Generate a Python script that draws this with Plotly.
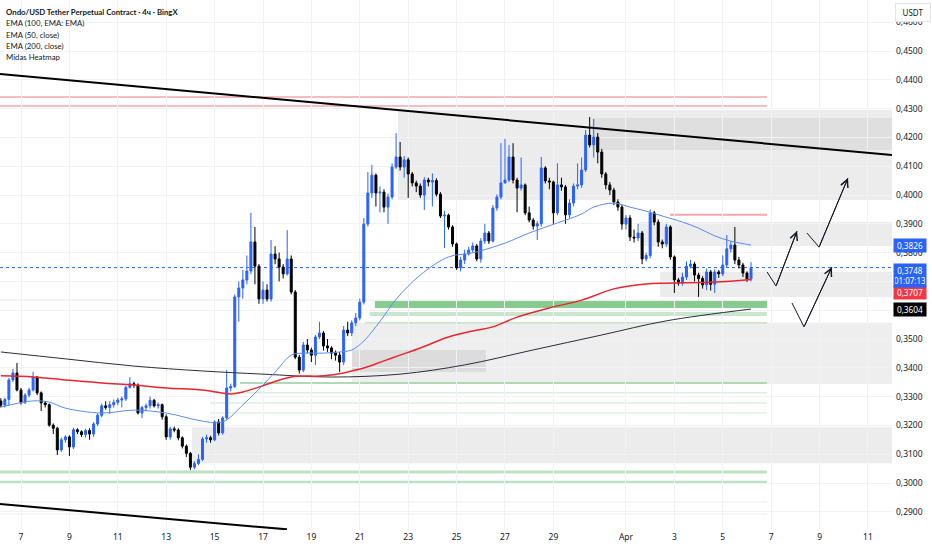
import pandas as pd
import plotly.graph_objects as go

# ---------------- data ----------------
start_time = "2025-03-06 04:00"
opens = [0.3285,0.3270,0.3290,0.3358,0.3382,0.3323,0.3280,0.3305,0.3323,0.3368,
         0.3313,0.3278,0.3272,0.3201,0.3190,0.3115,0.3150,0.3160,0.3125,0.3185,
         0.3178,0.3168,0.3182,0.3170,0.3205,0.3235,0.3268,0.3262,0.3272,0.3280,
         0.3288,0.3292,0.3332,0.3345,0.3340,0.3243,0.3262,0.3268,0.3287,0.3268,
         0.3272,0.3230,0.3160,0.3188,0.3184,0.3157,0.3128,0.3103,0.3055,0.3068,
         0.3082,0.3153,0.3157,0.3150,0.3212,0.3174,0.3226,0.3330,0.3335,0.3646,
         0.3677,0.3705,0.3736,0.3837,0.3753,0.3639,0.3670,0.3639,0.3795,0.3778,
         0.3750,0.3726,0.3778,0.3663,0.3437,0.3392,0.3479,0.3462,0.3444,0.3507,
         0.3521,0.3476,0.3469,0.3451,0.3444,0.3420,0.3531,0.3521,0.3556,0.3573,
         0.3628,0.3899,0.4007,0.4069,0.4007,0.4010,0.3958,0.3993,0.4097,0.4132,
         0.4097,0.4122,0.4073,0.4042,0.4031,0.4000,0.4052,0.4045,0.4050,0.4003,
         0.3927,0.3930,0.3889,0.3830,0.3747,0.3774,0.3795,0.3809,0.3823,0.3778,
         0.3840,0.3868,0.3840,0.3955,0.3993,0.4042,0.4052,0.4132,0.4052,0.4024,
         0.4035,0.3938,0.3913,0.3892,0.3900,0.4094,0.4049,0.4045,0.3938,0.4035,
         0.4028,0.3931,0.3972,0.4031,0.4035,0.4087,0.4208,0.4174,0.4201,0.4149,
         0.4073,0.4035,0.4017,0.3976,0.3958,0.3899,0.3920,0.3854,0.3851,0.3868,
         0.3778,0.3790,0.3938,0.3906,0.3837,0.3830,0.3889,0.3785,0.3705,0.3694,
         0.3715,0.3753,0.3760,0.3722,0.3710,0.3688,0.3733,0.3690,0.3733,0.3726,
         0.3757,0.3813,0.3826,0.3774,0.3757,0.3729,0.3708]
closes = [0.3270,0.3290,0.3358,0.3382,0.3323,0.3280,0.3305,0.3323,0.3368,0.3313,
          0.3278,0.3272,0.3201,0.3190,0.3115,0.3150,0.3160,0.3125,0.3185,0.3178,
          0.3168,0.3182,0.3170,0.3205,0.3235,0.3268,0.3262,0.3272,0.3280,0.3288,
          0.3292,0.3332,0.3345,0.3340,0.3243,0.3262,0.3268,0.3287,0.3268,0.3272,
          0.3230,0.3160,0.3188,0.3184,0.3157,0.3128,0.3103,0.3055,0.3068,0.3082,
          0.3153,0.3157,0.3150,0.3212,0.3174,0.3226,0.3330,0.3335,0.3646,0.3677,
          0.3705,0.3736,0.3837,0.3753,0.3639,0.3670,0.3639,0.3795,0.3778,0.3750,
          0.3726,0.3778,0.3663,0.3437,0.3392,0.3479,0.3462,0.3444,0.3507,0.3521,
          0.3476,0.3469,0.3451,0.3444,0.3420,0.3531,0.3521,0.3556,0.3573,0.3628,
          0.3899,0.4007,0.4069,0.4007,0.4010,0.3958,0.3993,0.4097,0.4132,0.4097,
          0.4122,0.4073,0.4042,0.4031,0.4000,0.4052,0.4045,0.4050,0.4003,0.3927,
          0.3930,0.3889,0.3830,0.3747,0.3774,0.3795,0.3809,0.3823,0.3778,0.3840,
          0.3868,0.3840,0.3955,0.3993,0.4042,0.4052,0.4132,0.4052,0.4024,0.4035,
          0.3938,0.3913,0.3892,0.3900,0.4094,0.4049,0.4045,0.3938,0.4035,0.4028,
          0.3931,0.3972,0.4031,0.4035,0.4087,0.4208,0.4174,0.4201,0.4149,0.4073,
          0.4035,0.4017,0.3976,0.3958,0.3899,0.3920,0.3854,0.3851,0.3868,0.3778,
          0.3790,0.3938,0.3906,0.3837,0.3830,0.3889,0.3785,0.3705,0.3694,0.3715,
          0.3753,0.3760,0.3722,0.3710,0.3688,0.3733,0.3690,0.3733,0.3726,0.3757,
          0.3813,0.3826,0.3774,0.3757,0.3729,0.3708,0.3748]
highs = [0.3295,0.3296,0.3365,0.3396,0.3417,0.3330,0.3312,0.3330,0.3386,0.3372,
         0.3318,0.3284,0.3276,0.3207,0.3195,0.3158,0.3166,0.3166,0.3192,0.3190,
         0.3183,0.3188,0.3190,0.3212,0.3242,0.3276,0.3284,0.3285,0.3290,0.3296,
         0.3300,0.3338,0.3368,0.3352,0.3346,0.3268,0.3276,0.3300,0.3292,0.3280,
         0.3276,0.3238,0.3195,0.3196,0.3190,0.3162,0.3134,0.3108,0.3076,0.3100,
         0.3160,0.3168,0.3164,0.3218,0.3222,0.3232,0.3392,0.3345,0.3655,0.3700,
         0.3740,0.3790,0.3938,0.3889,0.3760,0.3700,0.3690,0.3844,0.3822,0.3800,
         0.3760,0.3878,0.3790,0.3670,0.3445,0.3490,0.3500,0.3470,0.3514,0.3560,
         0.3528,0.3500,0.3475,0.3460,0.3455,0.3545,0.3560,0.3565,0.3590,0.3640,
         0.3920,0.4080,0.4104,0.4075,0.4030,0.4020,0.4005,0.4110,0.4215,0.4184,
         0.4135,0.4130,0.4080,0.4050,0.4040,0.4062,0.4060,0.4075,0.4058,0.4010,
         0.3945,0.3935,0.3895,0.3835,0.3785,0.3810,0.3820,0.3835,0.3830,0.3850,
         0.3900,0.3875,0.3965,0.4002,0.4180,0.4195,0.4174,0.4180,0.4060,0.4130,
         0.4040,0.3960,0.3920,0.3910,0.4132,0.4100,0.4060,0.4050,0.4110,0.4060,
         0.4035,0.3985,0.4040,0.4110,0.4130,0.4225,0.4271,0.4264,0.4215,0.4160,
         0.4080,0.4045,0.4025,0.3985,0.3965,0.3930,0.3930,0.3880,0.3900,0.3875,
         0.3800,0.3950,0.3945,0.3915,0.3845,0.3900,0.3895,0.3790,0.3712,0.3730,
         0.3770,0.3775,0.3768,0.3730,0.3718,0.3745,0.3740,0.3742,0.3740,0.3790,
         0.3861,0.3840,0.3889,0.3785,0.3765,0.3735,0.3767]
lows = [0.3262,0.3262,0.3268,0.3350,0.3318,0.3272,0.3274,0.3298,0.3318,0.3305,
        0.3250,0.3262,0.3195,0.3170,0.3097,0.3108,0.3140,0.3094,0.3118,0.3170,
        0.3160,0.3158,0.3150,0.3160,0.3198,0.3228,0.3255,0.3240,0.3262,0.3270,
        0.3262,0.3285,0.3328,0.3330,0.3238,0.3225,0.3250,0.3258,0.3262,0.3258,
        0.3220,0.3150,0.3150,0.3176,0.3148,0.3120,0.3090,0.3045,0.3048,0.3062,
        0.3076,0.3140,0.3140,0.3145,0.3165,0.3168,0.3220,0.3318,0.3330,0.3560,
        0.3640,0.3690,0.3725,0.3690,0.3622,0.3622,0.3630,0.3630,0.3760,0.3700,
        0.3710,0.3720,0.3655,0.3430,0.3380,0.3385,0.3450,0.3420,0.3410,0.3500,
        0.3460,0.3455,0.3430,0.3425,0.3385,0.3410,0.3510,0.3510,0.3545,0.3565,
        0.3620,0.3890,0.3990,0.3960,0.3940,0.3940,0.3900,0.3985,0.4090,0.4085,
        0.4060,0.3990,0.4030,0.4010,0.3990,0.3948,0.4030,0.3960,0.3995,0.3920,
        0.3816,0.3880,0.3820,0.3740,0.3735,0.3760,0.3790,0.3800,0.3770,0.3765,
        0.3830,0.3830,0.3835,0.3945,0.3985,0.4040,0.4045,0.4040,0.3940,0.4015,
        0.3930,0.3905,0.3880,0.3844,0.3890,0.4040,0.4020,0.3900,0.3930,0.4015,
        0.3900,0.3920,0.3960,0.4020,0.4025,0.4080,0.4165,0.4130,0.4110,0.4060,
        0.4020,0.4000,0.3965,0.3945,0.3880,0.3880,0.3840,0.3835,0.3840,0.3760,
        0.3770,0.3780,0.3895,0.3820,0.3815,0.3820,0.3775,0.3660,0.3685,0.3685,
        0.3705,0.3745,0.3700,0.3646,0.3675,0.3670,0.3668,0.3660,0.3712,0.3718,
        0.3750,0.3800,0.3760,0.3745,0.3715,0.3698,0.3700]

# moving averages (candle index -> value)
ema50_idx = [0,8,12,16,25,33,41,50,55,60,64,68,72,75,80,84,87,90,95,98,104,111,
             117,125,131,138,144,147,152,156,160,164,169,173,177,181,186]
ema50_val = [0.3264,0.3285,0.3281,0.3260,0.3243,0.3253,0.3243,0.3215,0.3212,0.3271,
             0.3326,0.3385,0.3444,0.3451,0.3451,0.3455,0.3462,0.3493,0.3580,0.3638,
             0.3722,0.3785,0.3799,0.3833,0.3868,0.3903,0.3934,0.3958,0.3972,0.3958,
             0.3944,0.3927,0.3906,0.3885,0.3858,0.3840,0.3826]
ema100_idx = [0,8,16,25,33,41,50,57,60,64,72,80,85,87,90,95,99,104,111,117,122,
              128,136,144,152,160,165,177,186]
ema100_val = [0.3372,0.3368,0.3358,0.3347,0.3340,0.3330,0.3323,0.3309,0.3316,0.3333,
              0.3368,0.3372,0.3382,0.3389,0.3399,0.3424,0.3444,0.3469,0.3507,0.3528,
              0.3542,0.3576,0.3608,0.3635,0.3674,0.3691,0.3694,0.3698,0.3707]
ema200_idx = [0,16,33,50,65,82,99,115,132,149,165,186]
ema200_val = [0.3455,0.3431,0.3406,0.3389,0.3378,0.3368,0.3378,0.3410,0.3462,0.3514,
              0.3563,0.3604]

x_range = ["2025-03-06 03:10", "2025-04-11 23:50"]
y_range = [0.28368, 0.46771]

tick_dates = ["2025-03-07","2025-03-09","2025-03-11","2025-03-13","2025-03-15",
              "2025-03-17","2025-03-19","2025-03-21","2025-03-23","2025-03-25",
              "2025-03-27","2025-03-29","2025-04-01","2025-04-03","2025-04-05",
              "2025-04-07","2025-04-09","2025-04-11"]
tick_labels = ["7","9","11","13","15","17","19","21","23","25","27","29",
               "Apr","3","5","7","9","11"]
price_ticks = [0.29,0.30,0.31,0.32,0.33,0.34,0.35,0.36,0.37,0.38,0.39,
               0.40,0.41,0.42,0.43,0.44,0.45,0.46]

# trend lines
trend_top_x = ["2025-03-06 03:10", "2025-04-11 23:50"]
trend_top_y = [0.4420, 0.4139]
trend_bot_x = ["2025-03-06 03:10", "2025-03-17 23:50"]
trend_bot_y = [0.2927, 0.2839]

# heatmap zones: (start, end, low, high)
hm_end = "2025-04-11 23:50"
heat_zones = [
    ("2025-03-22 13:55", hm_end, 0.3983, 0.4295),
    ("2025-03-30 14:20", hm_end, 0.4156, 0.4267),
    ("2025-04-01 13:55", hm_end, 0.3823, 0.3906),
    ("2025-04-02 09:40", hm_end, 0.3646, 0.3733),
    ("2025-03-20 16:15", hm_end, 0.3344, 0.3556),
    ("2025-03-20 16:15", "2025-03-26 05:05", 0.3385, 0.3462),
    ("2025-03-14 01:35", hm_end, 0.3069, 0.3194),
]
zone_fill = ["#ececec", "#dfdfdf", "#ececec", "#ececec", "#eeeeee", "#dcdcdc", "#ececec"]

lvl_end = "2025-04-06 19:55"
green_bands = [
    ("2025-03-21 15:00", lvl_end, 0.3608, 0.3632),
    ("2025-03-21 10:00", lvl_end, 0.3580, 0.3594),
]
green_band_fill = ["#87cb90", "#c8e7cc"]
level_lines = [  # (start, end, price)
    ("2025-03-06 03:10", lvl_end, 0.4340),
    ("2025-03-06 03:10", lvl_end, 0.4309),
    ("2025-04-02 19:40", lvl_end, 0.3931),
    ("2025-03-21 05:10", lvl_end, 0.3556),
    ("2025-03-16 01:10", lvl_end, 0.3347),
    ("2025-03-14 19:25", lvl_end, 0.3313),
    ("2025-03-14 19:25", lvl_end, 0.3278),
    ("2025-03-14 19:25", lvl_end, 0.3243),
    ("2025-03-06 03:10", lvl_end, 0.3038),
    ("2025-03-06 03:10", lvl_end, 0.3003),
    ("2025-03-06 03:10", lvl_end, 0.3635),
    ("2025-03-06 03:10", lvl_end, 0.2934),
    ("2025-03-06 03:10", lvl_end, 0.2892),
]
level_style = [("#f7bcc2", 2), ("#f7bcc2", 2), ("#f5a5ad", 2), ("#c6e4ca", 1.5),
               ("#b0d9b5", 2), ("#dcefdf", 1.5), ("#dcefdf", 1.5), ("#e2f2e4", 1.5),
               ("#bde0c1", 3), ("#bde0c1", 3), ("#e8e8e8", 1), ("#eeeeee", 1),
               ("#eeeeee", 1)]

# hand-drawn projection arrows
arrows = [
    (["2025-04-06 19:55", "2025-04-07 04:50", "2025-04-08 01:40"], [0.3733, 0.3684, 0.3875]),
    (["2025-04-08 11:30", "2025-04-08 23:30", "2025-04-10 04:10"], [0.3868, 0.3819, 0.4059]),
    (["2025-04-07 20:40", "2025-04-08 08:35", "2025-04-09 12:15"], [0.3625, 0.3542, 0.3750]),
]

legend_lines = ["<b>Ondo/USD Tether Perpetual Contract · 4ч · BingX</b>",
                "EMA (100, EMA: EMA)", "EMA (50, close)", "EMA (200, close)",
                "Midas Heatmap"]
countdown = "01:07:13"

# ---------------- figure ----------------
times = pd.date_range(start_time, periods=len(closes), freq="4h")
FONT = "Noto Sans, Liberation Sans, sans-serif"
LFONT = "Lato, Noto Sans, sans-serif"
TXT = "#131722"
BLUE = "#2962ff"

fig = go.Figure()

shapes = []
for (x0, x1, y0, y1), col in zip(heat_zones, zone_fill):
    shapes.append(dict(type="rect", xref="x", yref="y", x0=x0, x1=x1, y0=y0, y1=y1,
                       fillcolor=col, line=dict(width=0), layer="below"))
for (x0, x1, y0, y1), col in zip(green_bands, green_band_fill):
    shapes.append(dict(type="rect", xref="x", yref="y", x0=x0, x1=x1, y0=y0, y1=y1,
                       fillcolor=col, line=dict(width=0), layer="below"))
for (x0, x1, y), (col, w) in zip(level_lines, level_style):
    shapes.append(dict(type="line", xref="x", yref="y", x0=x0, x1=x1, y0=y, y1=y,
                       line=dict(color=col, width=w), layer="below"))
# last price dotted line
shapes.append(dict(type="line", xref="x", yref="y", x0=x_range[0], x1=x_range[1],
                   y0=closes[-1], y1=closes[-1],
                   line=dict(color=BLUE, width=1, dash="dot"), layer="below"))

fig.add_trace(go.Scatter(x=trend_top_x, y=trend_top_y, mode="lines",
                         line=dict(color="#000000", width=2), hoverinfo="skip"))
fig.add_trace(go.Scatter(x=trend_bot_x, y=trend_bot_y, mode="lines",
                         line=dict(color="#000000", width=2), hoverinfo="skip"))

fig.add_trace(go.Scatter(x=times[ema200_idx], y=ema200_val, mode="lines",
                         line=dict(color="#2a2e39", width=1, shape="spline"), hoverinfo="skip"))
fig.add_trace(go.Scatter(x=times[ema100_idx], y=ema100_val, mode="lines",
                         line=dict(color="#e8262f", width=1.5, shape="spline"), hoverinfo="skip"))
fig.add_trace(go.Scatter(x=times[ema50_idx], y=ema50_val, mode="lines",
                         line=dict(color="#5b8cf0", width=1, shape="spline"), hoverinfo="skip"))

fig.add_trace(go.Candlestick(
    x=times, open=opens, high=highs, low=lows, close=closes,
    increasing=dict(line=dict(color=BLUE, width=1), fillcolor=BLUE),
    decreasing=dict(line=dict(color="#000000", width=1), fillcolor="#000000"),
    whiskerwidth=0, hoverinfo="skip"))

annotations = []
for ax_, ay_ in arrows:
    fig.add_trace(go.Scatter(x=ax_, y=ay_, mode="lines",
                             line=dict(color="#131722", width=1), hoverinfo="skip"))
    annotations.append(dict(x=ax_[-1], y=ay_[-1], ax=ax_[-2], ay=ay_[-2],
                            xref="x", yref="y", axref="x", ayref="y", text="",
                            showarrow=True, arrowhead=5, arrowsize=1.5,
                            arrowwidth=1, arrowcolor="#131722"))

# top-left legend text
for k, t in enumerate(legend_lines):
    annotations.append(dict(x=0.005, y=1 - (12 + 11.3 * k) / 530, xref="paper", yref="paper",
                            text=t, showarrow=False, xanchor="left", yanchor="middle",
                            font=dict(family=LFONT, size=7.8, color=TXT)))

def fmt(v):
    return f"{v:.4f}".replace(".", ",")

# right axis price tags: (value, text, bg, anchor, shift)
tags = [
    (ema50_val[-1], fmt(ema50_val[-1]), BLUE, "middle", 0),
    (ema100_val[-1], fmt(ema100_val[-1]), "#f23645", "top", -5.5),
    (ema200_val[-1], fmt(ema200_val[-1]), "#000000", "middle", 0),
]
for y, t, bg, anc, sh in tags:
    annotations.append(dict(x=1, y=y, xref="paper", yref="y", text=t, showarrow=False,
                            xanchor="left", yanchor=anc, yshift=sh, xshift=1, width=30,
                            bgcolor=bg, borderpad=1,
                            font=dict(family=FONT, size=8.3, color="#ffffff")))
annotations.append(dict(x=1, y=closes[-1], xref="paper", yref="y",
                        text=fmt(closes[-1]) + "<br>" + countdown, showarrow=False,
                        xanchor="left", yanchor="top", yshift=5, xshift=1, width=30,
                        bgcolor=BLUE, borderpad=1,
                        font=dict(family=FONT, size=8, color="#ffffff")))
annotations.append(dict(x=1, y=1, xref="paper", yref="paper", text="USDT",
                        showarrow=False, xanchor="left", yanchor="top", xshift=3, yshift=-3,
                        width=28, bgcolor="#ffffff", bordercolor="#e0e3eb", borderwidth=1,
                        borderpad=3, font=dict(family=FONT, size=8, color=TXT)))

fig.update_layout(
    width=932, height=550, template="none",
    paper_bgcolor="#ffffff", plot_bgcolor="#ffffff",
    margin=dict(l=0, r=40, t=0, b=20),
    showlegend=False, separators=",.",
    shapes=shapes, annotations=annotations,
    font=dict(family=FONT, size=8.5, color=TXT),
    xaxis=dict(type="date", range=x_range, tickvals=tick_dates, ticktext=tick_labels,
               showgrid=True, gridcolor="#f1f2f5", gridwidth=1, zeroline=False,
               showline=False, ticks="", rangeslider=dict(visible=False),
               tickfont=dict(family=FONT, size=8.5, color=TXT)),
    yaxis=dict(side="right", range=y_range, tickvals=price_ticks, tickformat=".4f",
               showgrid=True, gridcolor="#f1f2f5", gridwidth=1, zeroline=False,
               showline=False, ticks="", ticklabelstandoff=3,
               tickfont=dict(family=FONT, size=8.5, color=TXT)),
)

fig.write_html("out.html", config={"displayModeBar": False},
               post_script="document.body.style.margin='0';")
